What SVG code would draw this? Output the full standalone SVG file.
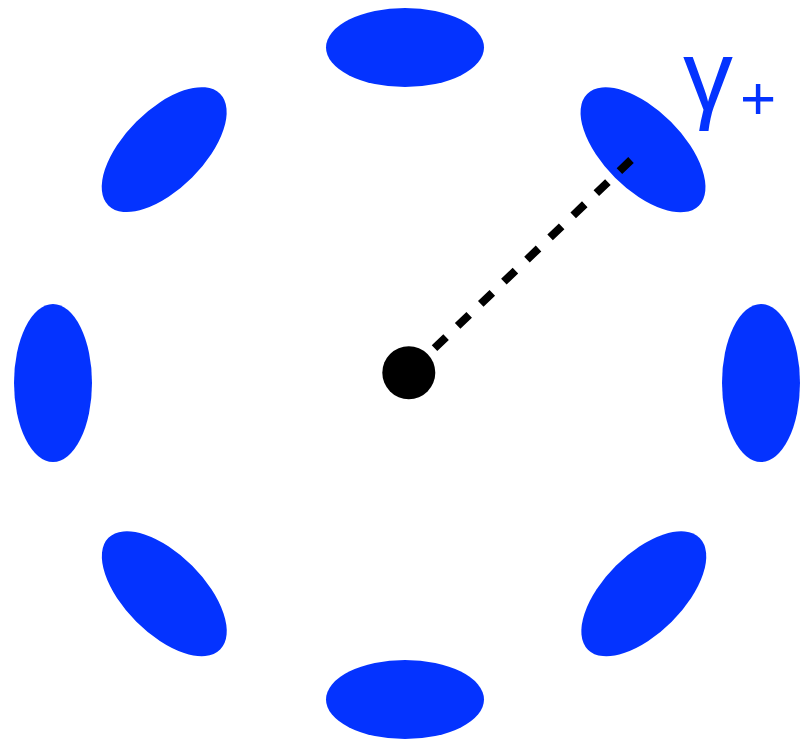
<svg xmlns="http://www.w3.org/2000/svg" width="801" height="740" viewBox="0 0 801 740">
<style>
.lobe{fill:#0433ff}
.lbl{fill:#0433ff;font-family:"Liberation Sans",Arial,sans-serif}
.conn{stroke:#000;stroke-width:8;stroke-dasharray:16 16;fill:none}
</style>
<rect width="801" height="740" fill="#fff"/>
<g id="lobe-top"><ellipse class="lobe" cx="405" cy="47.5" rx="79" ry="39.5"/></g>
<g id="lobe-bottom"><ellipse class="lobe" cx="405" cy="699.5" rx="79" ry="39.5"/></g>
<g id="lobe-left"><ellipse class="lobe" cx="53" cy="383" rx="39" ry="79"/></g>
<g id="lobe-right"><ellipse class="lobe" cx="761" cy="383" rx="39" ry="79"/></g>
<g id="lobe-top-left"><ellipse class="lobe" cx="0" cy="0" rx="79" ry="39.5" transform="translate(164.2 149.6) rotate(-45)"/></g>
<g id="lobe-top-right"><ellipse class="lobe" cx="0" cy="0" rx="79" ry="39.5" transform="translate(643 149.8) rotate(45)"/></g>
<g id="lobe-bottom-left"><ellipse class="lobe" cx="0" cy="0" rx="79" ry="39.5" transform="translate(164.3 593.7) rotate(45)"/></g>
<g id="lobe-bottom-right"><ellipse class="lobe" cx="0" cy="0" rx="79" ry="39.5" transform="translate(643.8 593.8) rotate(-45)"/></g>
<g id="connectors"><line class="conn" x1="631" y1="160" x2="408.8" y2="372.7"/></g>
<g id="center"><circle cx="408.8" cy="372.7" r="26.5" fill="#000"/></g>
<g id="label"><text class="lbl" x="683" y="110" font-size="100">γ</text><text class="lbl" x="740" y="119" font-size="62">+</text></g>
</svg>
